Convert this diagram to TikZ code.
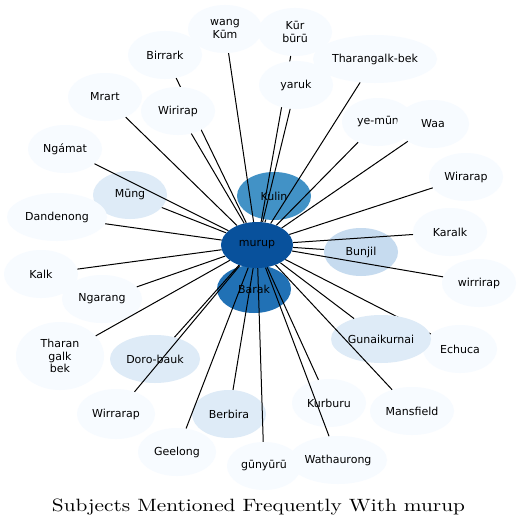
\documentclass[tikz,border=0pt]{standalone}
\usepackage{fontspec}
\newfontfamily\subjfont{DejaVu Sans}
\definecolor{blueA}{HTML}{F7FBFF}
\definecolor{blueB}{HTML}{DEEBF7}
\definecolor{blueC}{HTML}{C6DBEF}
\definecolor{blueF}{HTML}{4292C6}
\definecolor{blueG}{HTML}{2171B5}
\definecolor{blueH}{HTML}{08519C}
\usetikzlibrary{shapes.geometric}
\pgfdeclarelayer{front}
\pgfsetlayers{main,front}

\begin{document}
\begin{tikzpicture}[
  x=1pt, y=-1pt,
  subject/.style={
    ellipse, fill=blueA, draw=none,
    minimum width=74pt, minimum height=48pt, inner sep=0pt,
    align=center, font=\subjfont\fontsize{11}{12.5}\selectfont
  },
  link/.style={line width=1pt, black}
]
\fill[white] (0,0) rectangle (520,527);
\useasboundingbox (0,0) rectangle (520,527);

\begin{pgfonlayer}{front}
\node[subject, fill=blueH, minimum width=72pt, minimum height=46pt] (murup) at (257,245) {murup};
\end{pgfonlayer}

% nodes lying under the links
\node[subject, fill=blueF] (kulin) at (274,196) {Kulin};
\node[subject, fill=blueG] (barak) at (254,289) {Barak};
\node[subject, fill=blueC] (bunjil) at (361,252) {Bunjil};
\node[subject, fill=blueB] (mung) at (130,195) {Mūng};
\node[subject, fill=blueB, minimum width=90pt] (dorobauk) at (155,359) {Doro-bauk};
\node[subject, fill=blueB] (berbira) at (229,414) {Berbira};
\node[subject] (kurburu) at (329,403) {Kurburu};
\node[subject] (wangkum) at (225,29) {wang\\Kūm};
\node[subject] (kurbur) at (295,32) {Kūr\\būrū};
\node[subject] (birrark) at (165,55) {Birrark};
\node[subject, minimum width=124pt] (tharangalk) at (375,59) {Tharangalk-bek};
\node[subject] (mrart) at (105,97) {Mrart};
\node[subject, minimum width=72pt] (yemun) at (378,122) {ye-mūn};
\node[subject, minimum width=72pt] (waa) at (433,124) {Waa};
\node[subject] (ngamat) at (65,149) {Ngámat};
\node[subject] (wirarap) at (466,177) {Wirarap};
\node[subject, minimum width=100pt] (dandenong) at (57,217) {Dandenong};
\node[subject] (karalk) at (450,232) {Karalk};
\node[subject] (kalk) at (41,274) {Kalk};
\node[subject] (wirrirap) at (479,283) {wirrirap};
\node[subject, minimum width=80pt] (ngarang) at (102,299) {Ngarang};
\node[subject] (echuca) at (460,349) {Echuca};
\node[subject, minimum width=88pt, minimum height=68pt] (tharan) at (60,356) {Tharan\\galk\\bek};
\node[subject, minimum width=78pt, minimum height=50pt] (wirrarap) at (116,414) {Wirrarap};
\node[subject, minimum width=84pt] (mansfield) at (412,411) {Mansfield};
\node[subject, minimum width=78pt] (geelong) at (177,452) {Geelong};
\node[subject] (gunyuru) at (264,466) {gūnyūrū};
\node[subject, minimum width=98pt] (wathaurong) at (338,460) {Wathaurong};

% links hidden under later nodes
\draw[link] (murup) -- (birrark);
\draw[link] (murup) -- (kurbur);
\draw[link] (murup) -- (echuca);

\node[subject] (wirirap) at (178,111) {Wirirap};
\node[subject] (yaruk) at (296,85) {yaruk};
\node[subject, fill=blueB, minimum width=100pt] (gunaikurnai) at (381,339) {Gunaikurnai};

% the other links
\draw[link] (murup) -- (kulin);
\draw[link] (murup) -- (barak);
\draw[link] (murup) -- (bunjil);
\draw[link] (murup) -- (mung);
\draw[link] (murup) -- (dorobauk);
\draw[link] (murup) -- (berbira);
\draw[link] (murup) -- (kurburu);
\draw[link] (murup) -- (wangkum);
\draw[link] (murup) -- (tharangalk);
\draw[link] (murup) -- (mrart);
\draw[link] (murup) -- (yemun);
\draw[link] (murup) -- (waa);
\draw[link] (murup) -- (ngamat);
\draw[link] (murup) -- (wirarap);
\draw[link] (murup) -- (dandenong);
\draw[link] (murup) -- (karalk);
\draw[link] (murup) -- (kalk);
\draw[link] (murup) -- (wirrirap);
\draw[link] (murup) -- (ngarang);
\draw[link] (murup) -- (tharan);
\draw[link] (murup) -- (wirrarap);
\draw[link] (murup) -- (mansfield);
\draw[link] (murup) -- (geelong);
\draw[link] (murup) -- (gunyuru);
\draw[link] (murup) -- (wathaurong);
\draw[link] (murup) -- (wirirap);
\draw[link] (murup) -- (yaruk);
\draw[link] (murup) -- (gunaikurnai);

\node[anchor=base, inner sep=0pt] (title) at (258.5,511.5) {\scalebox{2.13}[1.78]{Subjects Mentioned Frequently With murup}};
\end{tikzpicture}
\end{document}
